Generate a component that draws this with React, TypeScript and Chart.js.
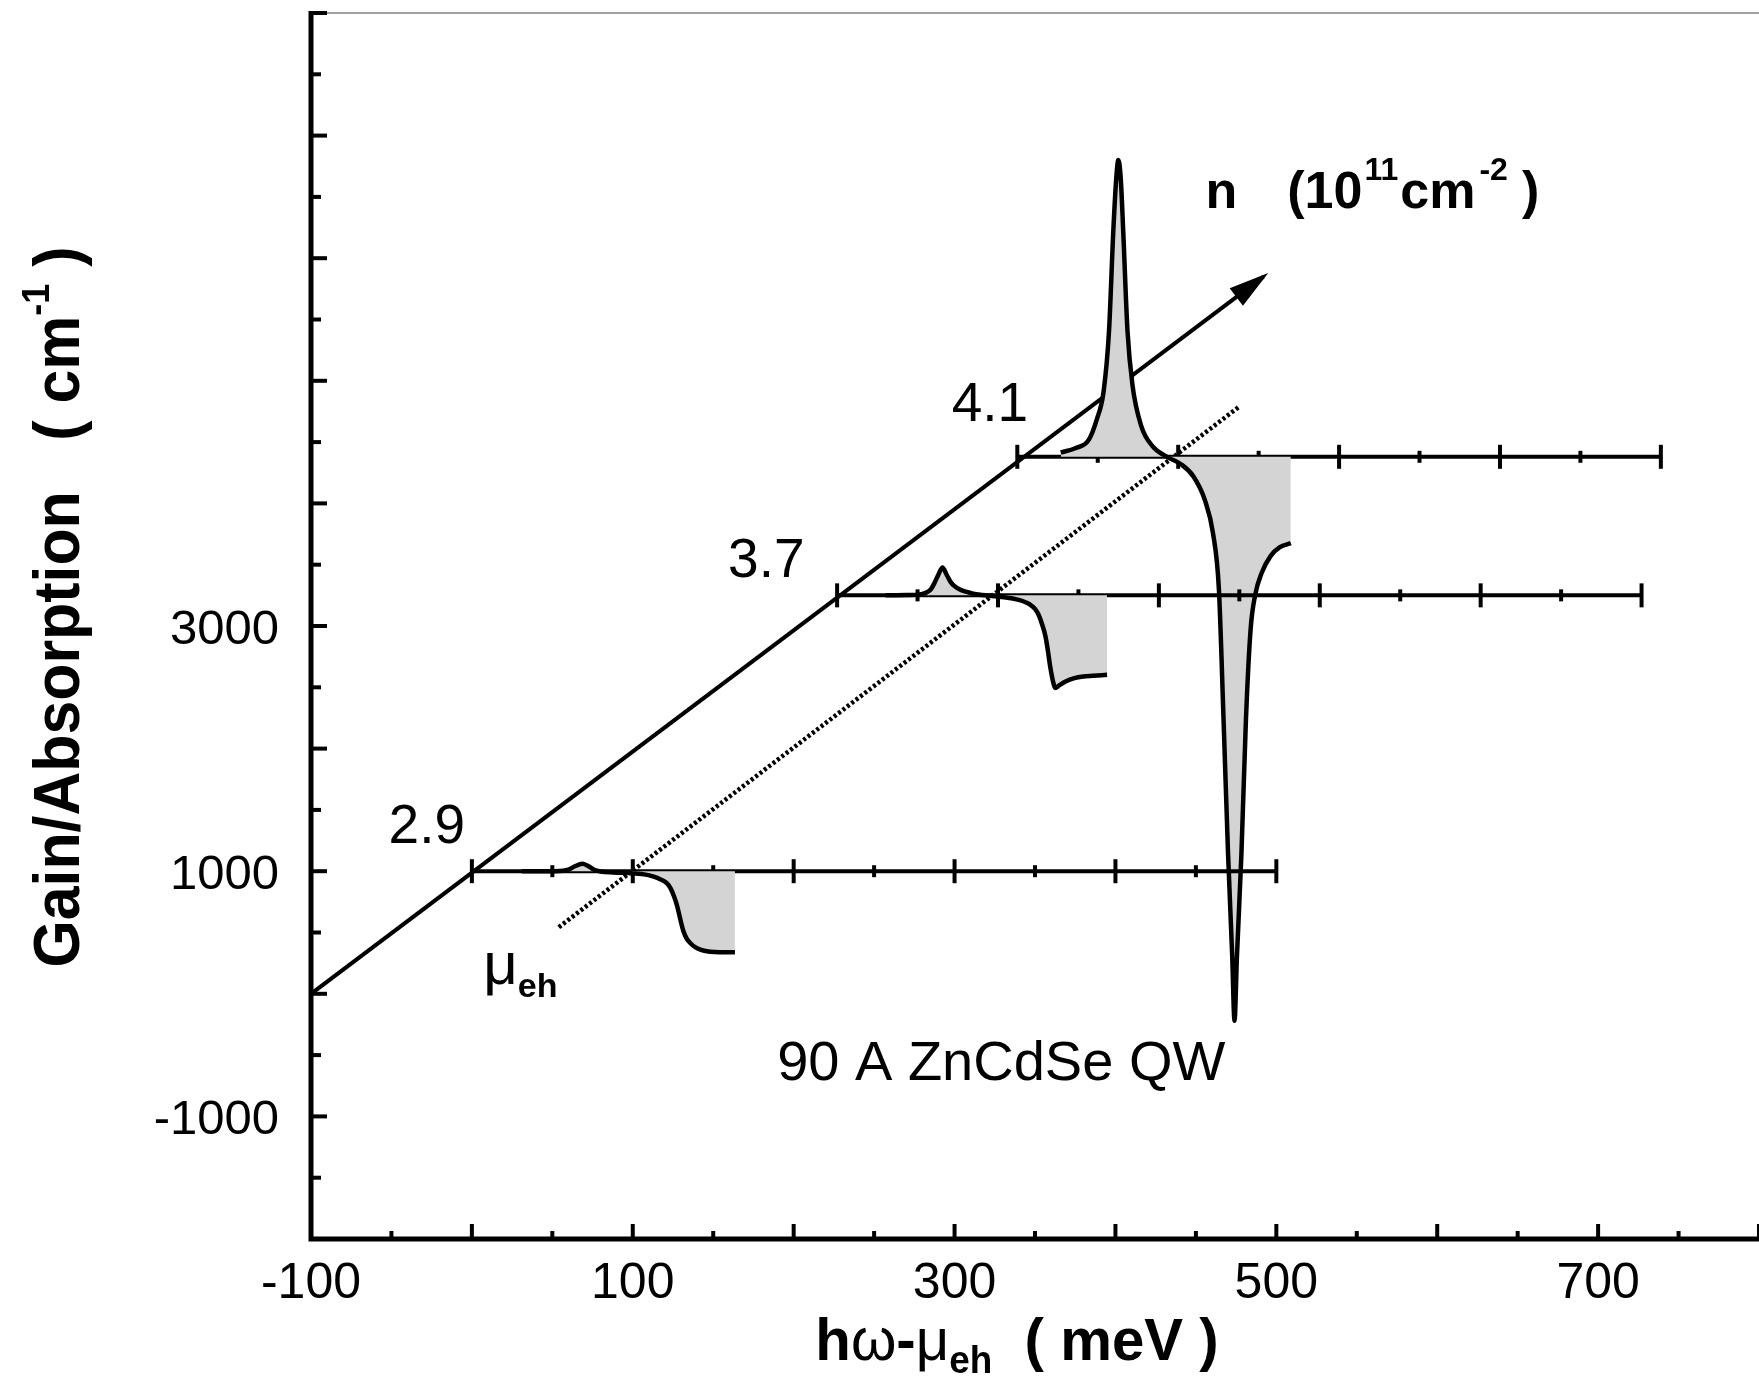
import React, { useEffect, useRef } from "react";
import { Chart, registerables } from "chart.js";

Chart.register(...registerables);

const W = 1759;
const H = 1382;
const SANS = '"Liberation Sans", Arial, Helvetica, sans-serif';
const FILL = "#d4d4d4";

// main axes
const X_MIN = -100;
const X_MAX = 800;
const Y_MIN = -2000;
const Y_MAX = 8000;
const X_TICK_LABELS = [-100, 100, 300, 500, 700];
const Y_TICK_LABELS = [-1000, 1000, 3000];

// carrier densities (10^11 cm^-2) and their offset baselines
const densityLabels = ["2.9", "3.7", "4.1"];
const baselineY = [1000, 3250, 4380];
const baselineStartX = [0, 227, 339];
const baselineLength = [500, 500, 400];
const densityLabelX = [-28, 183, 322];
const densityLabelY = [1390, 3559, 4839];

// n = 2.9
const curve29X = [31, 45, 55, 60, 64, 68.7, 72, 76, 80, 88, 100, 108, 113, 117, 121, 123.5, 125.6, 127.5, 129.5, 131.5, 133.5, 136, 139, 142, 146, 151, 157, 163.5];
const curve29Y = [1000, 1000, 1002, 1012, 1040, 1060, 1045, 1012, 998, 990, 982, 972, 955, 935, 904, 860, 795, 720, 610, 510, 450, 410, 378, 360, 347, 340, 338, 339];

// n = 3.7
const curve37X = [257, 270, 277.5, 282, 285, 287.5, 290, 292.5, 295, 297.5, 300, 303, 307, 311, 315, 319, 326.6, 333, 338.5, 343, 346.8, 350, 352.3, 354.5, 356.5, 358, 359.3, 361, 362.6, 365, 369, 374.5, 380, 386, 394.8];
const curve37Y = [3250, 3252, 3256, 3270, 3295, 3350, 3420, 3477, 3420, 3360, 3325, 3300, 3280, 3266, 3257, 3250, 3240, 3230, 3217, 3200, 3176, 3140, 3090, 3010, 2917, 2800, 2680, 2560, 2495, 2515, 2548, 2575, 2588, 2594, 2602];

// n = 4.1
const curve41X = [366, 375, 383.5, 388.5, 392.6, 396, 398.7, 400.5, 401.8, 403.3, 404.8, 407.5, 410.6, 416, 423, 432, 441, 448.5, 455.6, 460.7, 464.3, 467.2, 470, 472.6, 474, 475.5, 478.3, 481.1, 484, 486.8, 491, 496.5, 502, 509];
const curve41Y = [4415, 4450, 4520, 4689, 4909, 5405, 6231, 6650, 6800, 6650, 6231, 5405, 4964, 4633, 4468, 4380, 4317, 4220, 4027, 3752, 3300, 2234, 1141, 300, -220, 300, 1141, 2234, 2971, 3250, 3436, 3572, 3641, 3676];

// density arrow and chemical potential line
const diagonalX = [-100, 492];
const diagonalY = [0, 5850];
const muLineX = [54, 477];
const muLineY = [543, 4790];

type Piece = { t: string; font: string; dy?: number; gap?: number };

function drawPieces(ctx: CanvasRenderingContext2D, pieces: Piece[], x: number, y: number, align: "left" | "center", sx = 1) {
  let total = 0;
  const ws = pieces.map((p) => {
    ctx.font = p.font;
    const w = ctx.measureText(p.t).width * sx + (p.gap ?? 0);
    total += w;
    return w;
  });
  let cx = align === "center" ? x - total / 2 : x;
  pieces.forEach((p, i) => {
    ctx.save();
    ctx.font = p.font;
    ctx.translate(cx, y + (p.dy ?? 0));
    ctx.scale(sx, 1);
    ctx.textAlign = "left";
    ctx.textBaseline = "alphabetic";
    ctx.fillStyle = "#000";
    ctx.fillText(p.t, 0, 0);
    ctx.restore();
    cx += ws[i];
  });
}

function drawText(ctx: CanvasRenderingContext2D, t: string, x: number, y: number, font: string, align: CanvasTextAlign, sx = 1) {
  ctx.save();
  ctx.font = font;
  ctx.translate(x, y);
  ctx.scale(sx, 1);
  ctx.textAlign = align;
  ctx.textBaseline = "alphabetic";
  ctx.fillStyle = "#000";
  ctx.fillText(t, 0, 0);
  ctx.restore();
}

const decorPlugin = {
  id: "decor",
  afterDatasetDraw(chart: any, args: any) {
    const ds = chart.data.datasets[args.index] as any;
    if (ds.baselineIndex === undefined) return;
    const k = ds.baselineIndex;
    const xs = chart.scales.x;
    const ys = chart.scales.y;
    const ctx = chart.ctx as CanvasRenderingContext2D;
    const py = ys.getPixelForValue(baselineY[k]);
    ctx.save();
    ctx.strokeStyle = "#000";
    ctx.lineWidth = 4;
    const n = Math.round(baselineLength[k] / 50);
    for (let i = 0; i <= n; i++) {
      const px = xs.getPixelForValue(baselineStartX[k] + 50 * i);
      const h = i % 2 === 0 ? 12 : 6;
      ctx.beginPath();
      ctx.moveTo(px, py - h);
      ctx.lineTo(px, py + h);
      ctx.stroke();
    }
    ctx.restore();
  },
  afterDraw(chart: any) {
    const ctx = chart.ctx as CanvasRenderingContext2D;
    const xs = chart.scales.x;
    const ys = chart.scales.y;
    const { left, top, bottom } = chart.chartArea;
    ctx.save();

    // arrow head on the density diagonal
    const sx0 = xs.getPixelForValue(diagonalX[0]);
    const sy0 = ys.getPixelForValue(diagonalY[0]);
    const tx = xs.getPixelForValue(diagonalX[1]);
    const ty = ys.getPixelForValue(diagonalY[1]);
    const len = Math.hypot(tx - sx0, ty - sy0);
    const ux = (tx - sx0) / len;
    const uy = (ty - sy0) / len;
    const L = 34;
    const Wd = 11;
    ctx.fillStyle = "#000";
    ctx.beginPath();
    ctx.moveTo(tx + ux * 6, ty + uy * 6);
    ctx.lineTo(tx - ux * L - uy * Wd, ty - uy * L + ux * Wd);
    ctx.lineTo(tx - ux * L + uy * Wd, ty - uy * L - ux * Wd);
    ctx.closePath();
    ctx.fill();

    // frame: thin top line
    ctx.strokeStyle = "#808080";
    ctx.lineWidth = 1.5;
    ctx.beginPath();
    ctx.moveTo(left, top);
    ctx.lineTo(W, top);
    ctx.stroke();

    // axes lines
    ctx.strokeStyle = "#000";
    ctx.lineWidth = 5;
    ctx.beginPath();
    ctx.moveTo(left, top - 2);
    ctx.lineTo(left, bottom + 2.5);
    ctx.moveTo(left - 2.5, bottom);
    ctx.lineTo(W, bottom);
    ctx.stroke();

    // y ticks (inward)
    ctx.lineWidth = 4;
    for (let v = Y_MIN; v <= Y_MAX; v += 500) {
      const py = ys.getPixelForValue(v);
      const long = v % 1000 === 0;
      ctx.beginPath();
      ctx.moveTo(left, py);
      ctx.lineTo(left + (long ? 16 : 10), py);
      ctx.stroke();
    }
    // x ticks (inward)
    for (let v = X_MIN; v <= X_MAX; v += 50) {
      const px = xs.getPixelForValue(v);
      const long = v % 100 === 0;
      ctx.beginPath();
      ctx.moveTo(px, bottom);
      ctx.lineTo(px, bottom - (long ? 15 : 8));
      ctx.stroke();
    }

    // tick labels
    const tickFont = `49px ${SANS}`;
    Y_TICK_LABELS.forEach((v) => {
      drawText(ctx, String(v), 279, ys.getPixelForValue(v) + 18, tickFont, "right");
    });
    X_TICK_LABELS.forEach((v) => {
      drawText(ctx, String(v), xs.getPixelForValue(v), 1298, `50px ${SANS}`, "center");
    });

    // density labels
    densityLabels.forEach((t, i) => {
      drawText(ctx, t, xs.getPixelForValue(densityLabelX[i]), ys.getPixelForValue(densityLabelY[i]) + 20, `55px ${SANS}`, "center");
    });

    // sample label
    drawText(ctx, "90 A ZnCdSe QW", xs.getPixelForValue(329), ys.getPixelForValue(-541) + 20, `56px ${SANS}`, "center");

    // mu_eh label
    drawPieces(
      ctx,
      [
        { t: "\u03bc", font: `60px ${SANS}` },
        { t: "eh", font: `bold 34px ${SANS}`, dy: 13 },
      ],
      xs.getPixelForValue(7),
      ys.getPixelForValue(80),
      "left"
    );

    // n (10^11 cm^-2)
    const bf = `bold 52px ${SANS}`;
    const sf = `bold 32px ${SANS}`;
    drawPieces(
      ctx,
      [
        { t: "n", font: bf, gap: 50 },
        { t: "(10", font: bf, gap: 2 },
        { t: "11", font: sf, dy: -28, gap: 2 },
        { t: "cm", font: bf, gap: 4 },
        { t: "-2", font: sf, dy: -28, gap: 14 },
        { t: ")", font: bf },
      ],
      xs.getPixelForValue(456),
      ys.getPixelForValue(6409),
      "left"
    );

    // x axis title
    const tf = `bold 60px ${SANS}`;
    const tn = `60px ${SANS}`;
    drawPieces(
      ctx,
      [
        { t: "h", font: tf },
        { t: "\u03c9", font: tn },
        { t: "-", font: tf },
        { t: "\u03bc", font: tn },
        { t: "eh", font: `bold 38px ${SANS}`, dy: 13 },
        { t: "  ( meV )", font: tf },
      ],
      1017,
      1360,
      "center",
      0.97
    );

    // y axis title (rotated)
    ctx.save();
    ctx.translate(56, 607);
    ctx.rotate(-Math.PI / 2);
    drawPieces(
      ctx,
      [
        { t: "Gain/Absorption   ( cm", font: `bold 64px ${SANS}` },
        { t: "-1", font: `bold 38px ${SANS}`, dy: -30 },
        { t: " )", font: `bold 64px ${SANS}` },
      ],
      0,
      23,
      "center",
      0.95
    );
    ctx.restore();

    ctx.restore();
  },
};

export default function App() {
  const ref = useRef<HTMLCanvasElement>(null);

  useEffect(() => {
    const canvas = ref.current;
    if (!canvas) return;
    const pts = (xs: number[], ys: number[]) => xs.map((x, i) => ({ x, y: ys[i] }));
    const baseline = (k: number) => ({
      data: [
        { x: baselineStartX[k], y: baselineY[k] },
        { x: baselineStartX[k] + baselineLength[k], y: baselineY[k] },
      ],
      borderColor: "#000",
      borderWidth: 4,
      pointRadius: 0,
      fill: false,
      baselineIndex: k,
    });
    const curve = (xs: number[], ys: number[], k: number) => ({
      data: pts(xs, ys),
      borderColor: "#000",
      borderWidth: 4.5,
      pointRadius: 0,
      fill: { value: baselineY[k] },
      backgroundColor: FILL,
      cubicInterpolationMode: "monotone",
    });

    const chart = new Chart(canvas, {
      type: "line",
      data: {
        datasets: [
          curve(curve29X, curve29Y, 0),
          baseline(0),
          curve(curve37X, curve37Y, 1),
          baseline(1),
          curve(curve41X, curve41Y, 2),
          baseline(2),
          {
            data: pts(muLineX, muLineY),
            borderColor: "#000",
            borderWidth: 4.5,
            borderDash: [3, 2.5],
            pointRadius: 0,
            fill: false,
          },
          {
            data: pts(diagonalX, diagonalY),
            borderColor: "#000",
            borderWidth: 4,
            pointRadius: 0,
            fill: false,
          },
        ] as any,
      },
      options: {
        responsive: false,
        animation: false,
        devicePixelRatio: 1,
        events: [],
        layout: { padding: { left: 311, top: 13, right: 0, bottom: H - 1239 } },
        scales: {
          x: { type: "linear", min: X_MIN, max: X_MAX, display: false },
          y: { type: "linear", min: Y_MIN, max: Y_MAX, display: false },
        },
        plugins: {
          legend: { display: false },
          tooltip: { enabled: false },
        },
      } as any,
      plugins: [decorPlugin as any],
    });
    return () => chart.destroy();
  }, []);

  return (
    <div style={{ position: "absolute", left: 0, top: 0, width: W, height: H, background: "#fff" }}>
      <canvas ref={ref} width={W} height={H} style={{ display: "block" }} />
    </div>
  );
}
